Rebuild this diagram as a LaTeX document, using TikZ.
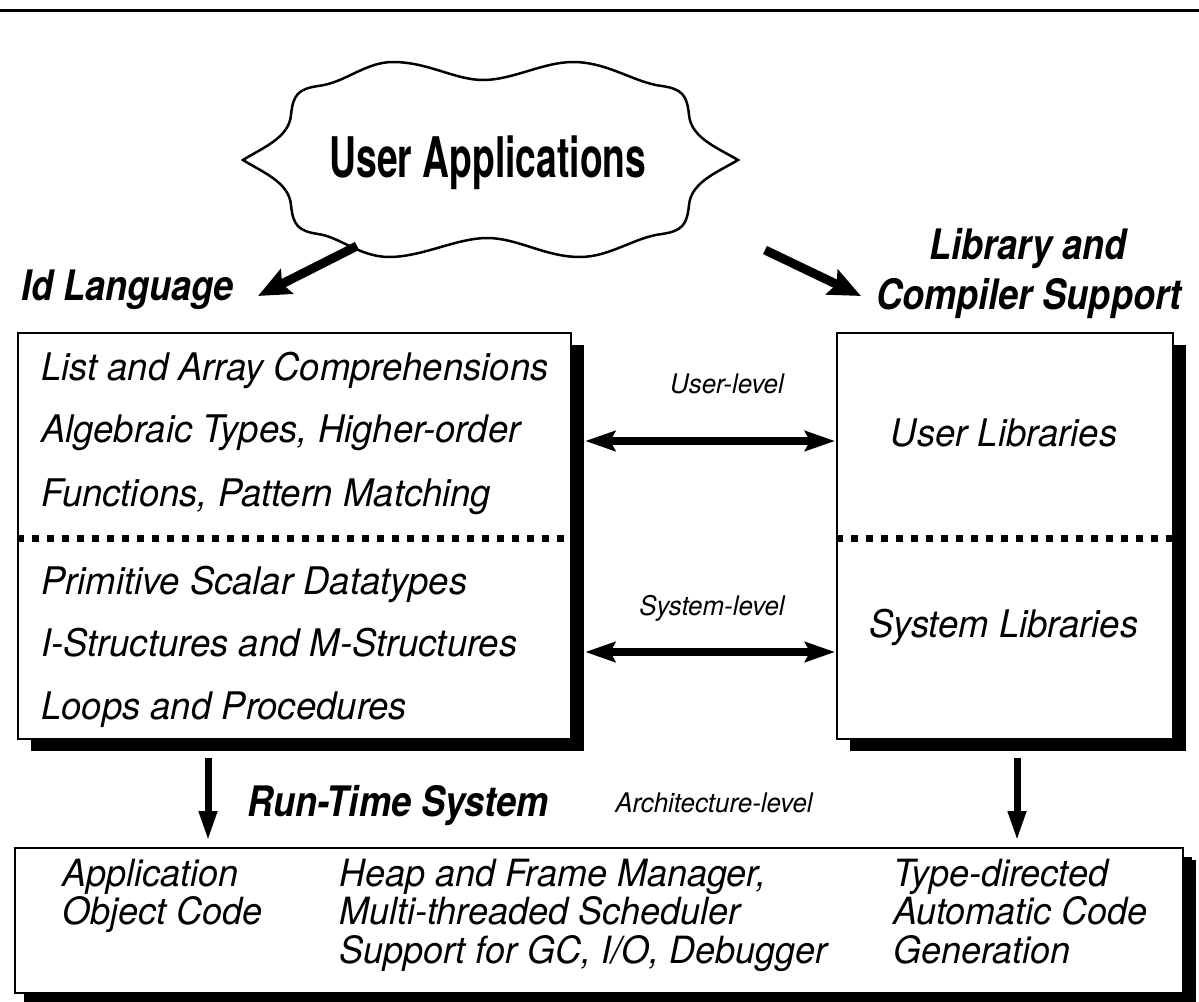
\documentclass[tikz,border=0pt]{standalone}
\usepackage{fontspec}
\setmainfont{TeX Gyre Heros}[FakeStretch=0.96]
\newfontfamily\titlefont{TeX Gyre Heros}[FakeStretch=0.665]
\newfontfamily\headfont{TeX Gyre Heros}[FakeStretch=0.86]
\usetikzlibrary{arrows.meta,shadows}
\begin{document}
\begin{tikzpicture}[x=1pt,y=-1pt,
  panel/.style={draw, line width=2.2pt, fill=white, inner sep=0pt, rectangle,
    drop shadow={shadow xshift=13pt, shadow yshift=-12pt, opacity=1, fill=black}},
  lowpanel/.style={panel,
    drop shadow={shadow xshift=9pt, shadow yshift=-9pt, opacity=1, fill=black}},
  dotrule/.style={line width=7pt, dash pattern=on 7pt off 8pt},
  rowtext/.style={anchor=base west, inner sep=0pt, font=\itshape\fontsize{38}{42}\selectfont},
  libtext/.style={anchor=base, inner sep=0pt, font=\itshape\fontsize{38}{42}\selectfont},
  lowtext/.style={anchor=base west, inner sep=0pt, font=\itshape\fontsize{37.5}{40}\selectfont},
  heading/.style={inner sep=0pt, font=\headfont\bfseries\itshape\fontsize{42}{46}\selectfont},
  level/.style={anchor=base, inner sep=0pt, font=\itshape\fontsize{27}{31}\selectfont},
  feed/.style={line width=9pt, -{Stealth[length=32pt,width=27pt,inset=5pt]}},
  link/.style={line width=8pt, {Stealth[length=30pt,width=20pt,inset=5pt]}-{Stealth[length=30pt,width=20pt,inset=5pt]}},
  drop/.style={line width=7pt, -{Triangle[length=30pt,width=17pt]}}]

\useasboundingbox (0,0) rectangle (1199,1001);

% rule across the top of the page
\draw[line width=3pt] (0,10) -- (1199,10);

% cloud
\draw[line width=2.5pt, fill=white]
  (243,160) .. controls (262,148) and (289,138) .. (291,115)
  .. controls (293,95) and (298,89) .. (318,86)
  .. controls (345,83) and (365,62) .. (393,62)
  .. controls (428,62) and (455,80) .. (483,80)
  .. controls (513,80) and (543,62) .. (573,62)
  .. controls (608,62) and (635,83) .. (662,86)
  .. controls (682,89) and (687,95) .. (689,115)
  .. controls (691,138) and (718,148) .. (738,160)
  .. controls (718,172) and (691,182) .. (689,205)
  .. controls (687,225) and (682,231) .. (662,234)
  .. controls (635,237) and (610,257) .. (580,257)
  .. controls (545,257) and (518,238) .. (487,238)
  .. controls (457,238) and (422,257) .. (389,257)
  .. controls (360,257) and (340,237) .. (318,234)
  .. controls (298,231) and (293,225) .. (291,205)
  .. controls (289,182) and (262,172) .. (243,160) -- cycle;
\node[anchor=base, inner sep=0pt, font=\titlefont\bfseries\fontsize{56}{60}\selectfont]
  (apps) at (488,177) {User Applications};

% headings
\node[heading, anchor=base west] (idlang) at (21,300) {Id Language};
\node[heading, anchor=base] (lib1) at (1028,259) {Library and};
\node[heading, anchor=base] (lib2) at (1029,309) {Compiler Support};
\node[heading, anchor=base west] (rts) at (247,816) {Run-Time System};

% arrows leaving the cloud
\coordinate (cl) at (357,246);
\coordinate (clt) at (258,296);
\coordinate (cr) at (765,250);
\coordinate (crt) at (861,296);
\draw[feed] (cl) -- (clt);
\draw[feed] (cr) -- (crt);

% language box
\node[panel, minimum width=553pt, minimum height=406pt, anchor=north west]
  (idbox) at (17,332) {};
% library box
\node[panel, minimum width=336pt, minimum height=406pt, anchor=north west]
  (libbox) at (836,332) {};

\coordinate (cut) at (0,538);
\draw[dotrule] (idbox.west |- cut) -- (idbox.east |- cut);
\draw[dotrule] (libbox.west |- cut) -- (libbox.east |- cut);

\node[rowtext] (r1) at (41,380) {List and Array Comprehensions};
\node[rowtext] (r2) at (41,442) {Algebraic Types, Higher-order};
\node[rowtext] (r3) at (41,506) {Functions, Pattern Matching};
\node[rowtext] (r4) at (41,594) {Primitive Scalar Datatypes};
\node[rowtext] (r5) at (41,656) {I-Structures and M-Structures};
\node[rowtext] (r6) at (41,719) {Loops and Procedures};

\node[libtext] (ulib) at (1004,446) {User Libraries};
\node[libtext] (slib) at (1004,637) {System Libraries};

% level links
\node[level] (ulev) at (727,393) {User-level};
\node[level] (slev) at (712,615) {System-level};
\coordinate (uy) at (0,441);
\coordinate (sy) at (0,652);
\draw[link, shorten <=13pt, shorten >=1pt] (idbox.east |- uy) -- (libbox.west |- uy);
\draw[link, shorten <=13pt, shorten >=1pt] (idbox.east |- sy) -- (libbox.west |- sy);

% run-time system box
\node[lowpanel, minimum width=1168pt, minimum height=145pt, anchor=north west]
  (rtbox) at (14,847) {};
\node[level] (alev) at (714,812) {Architecture-level};

\coordinate (dl) at (208,758);
\coordinate (dr) at (1017,758);
\draw[drop, shorten >=6pt] (dl) -- (rtbox.north -| dl);
\draw[drop, shorten >=6pt] (dr) -- (rtbox.north -| dr);

\node[lowtext] (a1) at (62,886) {Application};
\node[lowtext] (a2) at (62,924) {Object Code};
\node[lowtext] (h1) at (339,886) {Heap and Frame Manager,};
\node[lowtext] (h2) at (339,924) {Multi-threaded Scheduler};
\node[lowtext] (h3) at (339,963) {Support for GC, I/O, Debugger};
\node[lowtext] (t1) at (893,886) {Type-directed};
\node[lowtext] (t2) at (893,924) {Automatic Code};
\node[lowtext] (t3) at (893,963) {Generation};
\end{tikzpicture}
\end{document}
